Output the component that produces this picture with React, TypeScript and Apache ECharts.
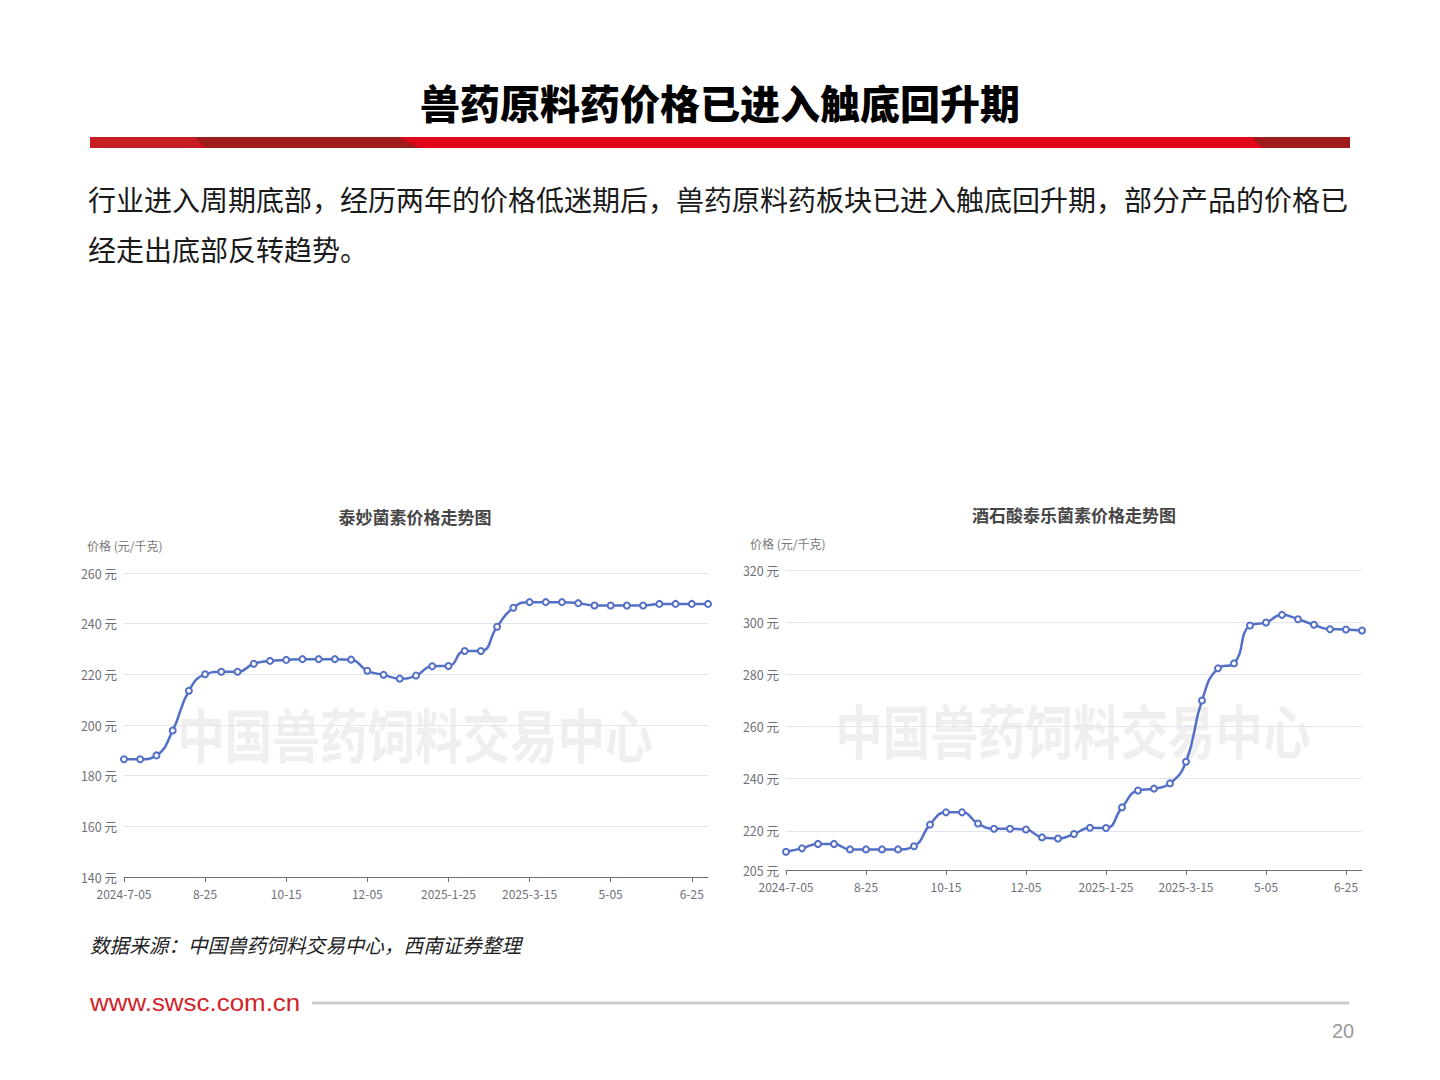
import React, { useEffect, useRef } from "react";
import * as echarts from "echarts";

const pageTitle = "兽药原料药价格已进入触底回升期";
const introLines = [
  "行业进入周期底部，经历两年的价格低迷期后，兽药原料药板块已进入触底回升期，部分产品的价格已",
  "经走出底部反转趋势。",
];
const leftTitle = "泰妙菌素价格走势图";
const rightTitle = "酒石酸泰乐菌素价格走势图";
const yName = "价格 (元/千克)";
const watermark = "中国兽药饲料交易中心";
const sourceText = "数据来源：中国兽药饲料交易中心，西南证券整理";
const siteText = "www.swsc.com.cn";
const pageNo = "20";

const dates = [
  "2024-7-05", "7-15", "7-25", "8-05", "8-15", "8-25", "9-05", "9-15", "9-25", "10-05",
  "10-15", "10-25", "11-05", "11-15", "11-25", "12-05", "12-15", "12-25", "1-05", "1-15",
  "2025-1-25", "2-05", "2-15", "2-25", "3-05", "2025-3-15", "3-25", "4-05", "4-15", "4-25",
  "5-05", "5-15", "5-25", "6-05", "6-15", "6-25", "7-05",
];

const tiamulin = [
  186.5, 186.5, 188, 197.8, 213.5, 220, 221, 221, 224.2, 225.3,
  225.7, 226, 226, 226, 225.8, 221.4, 219.8, 218.3, 219.5, 223.2,
  223.3, 229.2, 229.2, 238.8, 246.3, 248.5, 248.5, 248.5, 248.1, 247.2,
  247.2, 247.2, 247.2, 247.8, 247.8, 247.8, 247.8,
];

const tylosin = [
  212, 213.3, 215, 215, 212.9, 212.9, 212.9, 212.9, 214.1, 222.4,
  227.1, 227.1, 222.8, 220.8, 220.8, 220.5, 217.5, 217.1, 218.8, 221.2,
  221.1, 229, 235.5, 236.2, 238.2, 246.5, 270, 282.3, 284.2, 298.7,
  299.9, 302.8, 301.1, 299, 297.3, 297.2, 296.8,
];

const CJK = "'Noto Sans CJK SC', 'Noto Sans', sans-serif";
const LINE = "#5470C6";

function txt(x: number, y: number, text: string, font: string, fill: string, align = "left", extra: any = {}) {
  return {
    type: "text",
    x,
    y,
    ...extra,
    style: {
      text,
      font,
      fill,
      textAlign: align,
      textVerticalAlign: "middle",
      align,
      verticalAlign: "middle",
    },
  };
}

export default function App() {
  const ref = useRef<HTMLDivElement>(null);

  useEffect(() => {
    if (!ref.current) return;
    const chart = echarts.init(ref.current, undefined, { renderer: "svg" });

    const xAxisBase = (gridIndex: number, margin: number) => ({
      type: "category",
      gridIndex,
      data: dates,
      boundaryGap: false,
      axisLine: { show: true, lineStyle: { color: "#6E7079", width: 1 } },
      axisTick: { show: true, interval: 4, length: 5, lineStyle: { color: "#6E7079" } },
      axisLabel: { interval: 4, color: "#6E7079", fontSize: 12, fontFamily: CJK, margin },
      splitLine: { show: false },
    });

    const yAxisBase = (gridIndex: number, min: number, max: number, interval?: number) => ({
      type: "value",
      gridIndex,
      min,
      max,
      ...(interval ? { interval } : { splitNumber: 5 }),
      axisLine: { show: false },
      axisTick: { show: false },
      axisLabel: { color: "#6E7079", fontSize: 12.5, fontFamily: CJK, formatter: "{value} 元", margin: 7 },
      splitLine: { show: true, lineStyle: { color: "#E0E6F1", width: 1 } },
    });

    const seriesBase = (i: number, data: number[]) => ({
      type: "line",
      xAxisIndex: i,
      yAxisIndex: i,
      data,
      smooth: true,
      symbol: "emptyCircle",
      symbolSize: 6,
      lineStyle: { color: LINE, width: 2.5 },
      itemStyle: { color: LINE, borderColor: LINE, borderWidth: 2 },
      z: 3,
    });

    const option: any = {
      animation: false,
      backgroundColor: "#ffffff",
      title: [
        {
          text: leftTitle,
          left: 410,
          top: 503,
          textAlign: "center",
          textStyle: { fontSize: 17, fontWeight: "bold", color: "#464646", fontFamily: CJK },
        },
        {
          text: rightTitle,
          left: 1069,
          top: 501,
          textAlign: "center",
          textStyle: { fontSize: 17, fontWeight: "bold", color: "#464646", fontFamily: CJK },
        },
      ],
      grid: [
        { left: 124, top: 573, width: 584, height: 304, containLabel: false, outerBoundsMode: "none" },
        { left: 786, top: 570, width: 576, height: 300, containLabel: false, outerBoundsMode: "none" },
      ],
      xAxis: [xAxisBase(0, 10), xAxisBase(1, 10)],
      yAxis: [yAxisBase(0, 140, 260, 20), yAxisBase(1, 205, 320)],
      series: [seriesBase(0, tiamulin), seriesBase(1, tylosin)],
      graphic: [
        txt(720, 102, pageTitle, `900 40px ${CJK}`, "#000000", "center"),
        // red bar
        { type: "rect", shape: { x: 90, y: 137, width: 1260, height: 11 }, style: { fill: "#E0061A" } },
        { type: "rect", shape: { x: 90, y: 137, width: 110, height: 11 }, style: { fill: "#C81D22" } },
        {
          type: "polygon",
          shape: { points: [[195, 137], [398, 137], [420, 148], [205, 148]] },
          style: { fill: "#9E1A1C" },
        },
        {
          type: "polygon",
          shape: { points: [[1252, 137], [1350, 137], [1350, 148], [1262, 148]] },
          style: { fill: "#9E1A1C" },
        },
        txt(88, 199, introLines[0], `28px ${CJK}`, "#1a1a1a"),
        txt(88, 249, introLines[1], `28px ${CJK}`, "#1a1a1a"),
        txt(87, 545, yName, `12px ${CJK}`, "#777777"),
        txt(750, 543, yName, `12px ${CJK}`, "#777777"),
        txt(415, 732, watermark, `bold 58px ${CJK}`, "#EFEFEF", "center", { scaleX: 0.82, z: 0 }),
        txt(1073, 728, watermark, `bold 58px ${CJK}`, "#EFEFEF", "center", { scaleX: 0.82, z: 0 }),
        txt(90, 944, sourceText, `italic 20px ${CJK}`, "#222222", "left", { scaleX: 0.98 }),
        txt(90, 1002, siteText, `24px 'Liberation Sans', Arial, sans-serif`, "#D2232A", "left", { scaleX: 1.08 }),
        { type: "rect", shape: { x: 312, y: 1001.5, width: 1037, height: 3 }, style: { fill: "#CACACA" } },
        txt(1343, 1031, pageNo, `20px 'Liberation Sans', Arial, sans-serif`, "#9A9A9A", "center"),
      ],
    };

    chart.setOption(option);
    return () => chart.dispose();
  }, []);

  return (
    <div
      ref={ref}
      style={{ position: "absolute", left: 0, top: 0, width: 1440, height: 1080, background: "#fff" }}
    />
  );
}
